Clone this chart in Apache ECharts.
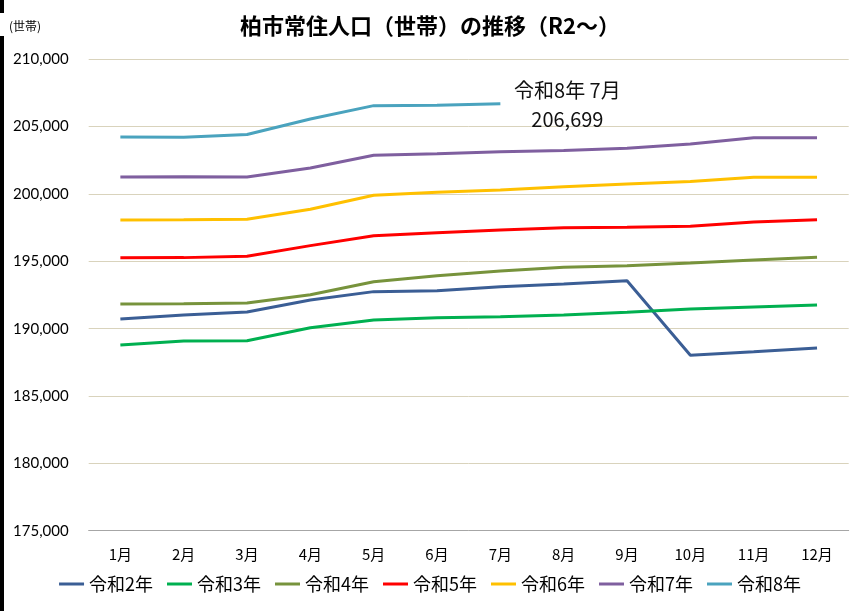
<!DOCTYPE html>
<html>
<head>
<meta charset="utf-8">
<script src="https://cdn.jsdelivr.net/npm/echarts@6/dist/echarts.min.js"></script>
<style>
html,body{margin:0;padding:0;background:#fff;}
#chart{width:860px;height:611px;}
</style>
</head>
<body>
<div id="chart"></div>
<script>
const months = ['1月','2月','3月','4月','5月','6月','7月','8月','9月','10月','11月','12月'];
const seriesNames = ['令和2年','令和3年','令和4年','令和5年','令和6年','令和7年','令和8年'];
const r2 = [190720, 191010, 191240, 192131, 192750, 192822, 193120, 193320, 193565, 188025, 188290, 188567];
const r3 = [188790, 189087, 189110, 190074, 190646, 190817, 190891, 191017, 191218, 191463, 191611, 191760];
const r4 = [191834, 191845, 191908, 192525, 193490, 193935, 194285, 194560, 194680, 194880, 195100, 195300];
const r5 = [195272, 195275, 195375, 196165, 196906, 197130, 197330, 197500, 197530, 197600, 197923, 198094];
const r6 = [198072, 198080, 198120, 198866, 199906, 200128, 200300, 200545, 200745, 200920, 201245, 201245];
const r7 = [201264, 201280, 201264, 201933, 202874, 202995, 203143, 203230, 203394, 203715, 204183, 204183];
const r8 = [204240, 204205, 204420, 205570, 206560, 206580, 206699];
const colors = ['#3B5E95', '#00B050', '#77933C', '#FF0000', '#FFC000', '#7F5F9F', '#4AA3BE'];
const yMin = 175000, yMax = 210000, yStep = 5000;
const annotationText = '令和8年 7月\n206,699';

const allData = [r2, r3, r4, r5, r6, r7, r8];
const jp = '"Noto Sans CJK JP", "Noto Sans", sans-serif';

const chart = echarts.init(document.getElementById('chart'), null, {renderer: 'canvas'});
const series = allData.map((d, i) => {
  const s = {
    name: seriesNames[i],
    type: 'line',
    data: d,
    symbol: 'none',
    smooth: false,
    lineStyle: {color: colors[i], width: 3},
    itemStyle: {color: colors[i]},
    z: 2 + i,
    animation: false
  };
  if (i === 6) {
    s.endLabel = {
      show: true,
      formatter: annotationText,
      fontFamily: jp,
      fontSize: 20,
      lineHeight: 29,
      color: '#111',
      align: 'center',
      verticalAlign: 'middle',
      distance: 0,
      offset: [67, 1]
    };
  }
  return s;
});

chart.setOption({
  animation: false,
  backgroundColor: '#fff',
  title: {
    text: '柏市常住人口（世帯）の推移（R2～）',
    left: 'center',
    top: 10,
    textStyle: {fontFamily: jp, fontSize: 22, fontWeight: 'bold', color: '#000'}
  },
  graphic: [
    {type: 'rect', shape: {x: 0, y: 0, width: 4, height: 13}, style: {fill: '#000'}},
    {type: 'rect', shape: {x: 0, y: 36, width: 4, height: 575}, style: {fill: '#000'}},
    {type: 'text', left: 9, top: 20, style: {text: '(世帯)', font: '12px "Noto Sans CJK JP"', fill: '#000'}}
  ],
  grid: {left: 88.7, right: 11.3, top: 59.3, bottom: 80.3, containLabel: false},
  legend: {
    data: seriesNames.map(n => ({name: n, icon: 'rect'})),
    bottom: 13,
    left: 'center',
    itemWidth: 25,
    itemHeight: 3,
    itemGap: 14,
    textStyle: {fontFamily: jp, fontSize: 18, color: '#000'}
  },
  xAxis: {
    type: 'category',
    data: months,
    boundaryGap: true,
    axisLine: {show: true, lineStyle: {color: '#A6A6A6', width: 1}},
    axisTick: {show: false},
    axisLabel: {fontFamily: jp, fontSize: 15, color: '#000', margin: 16}
  },
  yAxis: {
    type: 'value',
    min: yMin,
    max: yMax,
    interval: yStep,
    axisLine: {show: false},
    axisTick: {show: false},
    splitLine: {lineStyle: {color: '#D9D3BC', width: 1}},
    axisLabel: {
      fontFamily: 'Lato, "Open Sans", sans-serif',
      fontSize: 15,
      color: '#000',
      margin: 20,
      formatter: v => v.toLocaleString('en-US')
    }
  },
  series: series
});
</script>
</body>
</html>
